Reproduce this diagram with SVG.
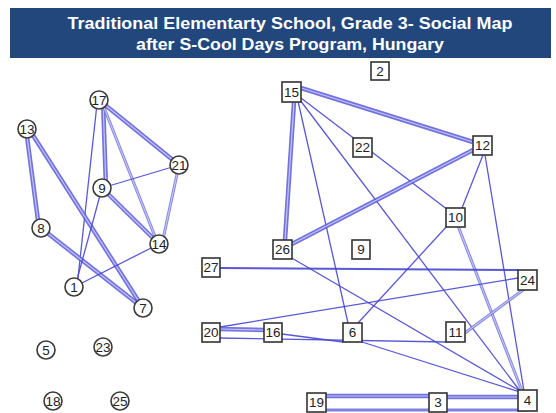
<svg xmlns="http://www.w3.org/2000/svg" width="556" height="413" viewBox="0 0 556 413">
<style>
.title{font-family:"Liberation Sans",Arial,sans-serif;font-weight:bold;font-size:17px;fill:#fff}
.lbl{font-family:"Liberation Sans",Arial,sans-serif;font-size:13.5px;fill:#222;text-anchor:middle;dominant-baseline:central}
.nc{fill:#fff;stroke:#3a3a3a;stroke-width:1.6}
.ns{fill:#fff;stroke:#333;stroke-width:1.6}
.thin{stroke:#4646d2;stroke-width:1.3;fill:none;opacity:.9}
.med{stroke:#6a6adc;stroke-width:3;fill:none;opacity:.85}
.thick{stroke:#5a5ad8;stroke-width:4.5;fill:none;opacity:.85}
.core{stroke:#c4c4f4;stroke-width:1.2;fill:none}
</style>
<rect x="10" y="8" width="541" height="50" fill="#21477c"/>
<text class="title" x="290" y="29" text-anchor="middle" textLength="445" lengthAdjust="spacingAndGlyphs">Traditional Elementarty School, Grade 3- Social Map</text>
<text class="title" x="290" y="50" text-anchor="middle" textLength="308" lengthAdjust="spacingAndGlyphs">after S-Cool Days Program, Hungary</text>
<g id="connectors">
<line class="thick" x1="99" y1="100" x2="179" y2="165"/><line class="core" x1="99" y1="100" x2="179" y2="165"/>
<line class="thick" x1="103" y1="100" x2="106" y2="188"/><line class="core" x1="103" y1="100" x2="106" y2="188"/>
<line class="med" x1="101" y1="100" x2="158" y2="244"/><line class="core" x1="101" y1="100" x2="158" y2="244"/>
<line class="thin" x1="97" y1="104" x2="77" y2="287"/>
<line class="thick" x1="26" y1="129" x2="39" y2="228"/><line class="core" x1="26" y1="129" x2="39" y2="228"/>
<line class="thick" x1="29" y1="129" x2="143" y2="308"/><line class="core" x1="29" y1="129" x2="143" y2="308"/>
<line class="thick" x1="41" y1="228" x2="143" y2="308"/><line class="core" x1="41" y1="228" x2="143" y2="308"/>
<line class="thin" x1="102" y1="188" x2="179" y2="165"/>
<line class="thick" x1="102" y1="188" x2="159" y2="244"/><line class="core" x1="102" y1="188" x2="159" y2="244"/>
<line class="thin" x1="102" y1="188" x2="75" y2="287"/>
<line class="med" x1="179" y1="165" x2="162" y2="244"/><line class="core" x1="179" y1="165" x2="162" y2="244"/>
<line class="thin" x1="74" y1="287" x2="159" y2="244"/>
<line class="thick" x1="301" y1="88" x2="473" y2="142"/><line class="core" x1="301" y1="88" x2="473" y2="142"/>
<line class="thick" x1="294" y1="102" x2="285" y2="240"/><line class="core" x1="294" y1="102" x2="285" y2="240"/>
<line class="thin" x1="301" y1="98" x2="448" y2="210"/>
<line class="thin" x1="298" y1="101" x2="348" y2="323"/>
<line class="thin" x1="300" y1="100" x2="520" y2="391"/>
<line class="thick" x1="290" y1="245" x2="473" y2="150"/><line class="core" x1="290" y1="245" x2="473" y2="150"/>
<line class="thin" x1="290" y1="257" x2="520" y2="391"/>
<line class="thin" x1="483" y1="155" x2="462" y2="208"/>
<line class="thin" x1="485" y1="155" x2="524" y2="391"/>
<line class="thin" x1="448" y1="225" x2="358" y2="323"/>
<line class="med" x1="458" y1="226" x2="522" y2="391"/><line class="core" x1="458" y1="226" x2="522" y2="391"/>
<line class="thin" style="stroke-width:2" x1="220" y1="268" x2="518" y2="270"/>
<line class="thin" x1="220" y1="327" x2="518" y2="278"/>
<line class="thick" x1="220" y1="329" x2="264" y2="330"/><line class="core" x1="220" y1="329" x2="264" y2="330"/>
<line class="thin" x1="220" y1="338" x2="447" y2="342"/>
<line class="thin" x1="282" y1="334" x2="343" y2="342"/>
<line class="thin" x1="362" y1="342" x2="520" y2="392"/>
<line class="med" x1="465" y1="333" x2="527" y2="287"/><line class="core" x1="465" y1="333" x2="527" y2="287"/>
<line class="thick" x1="326" y1="396" x2="429" y2="396"/><line class="core" x1="326" y1="396" x2="429" y2="396"/>
<line class="thick" x1="447" y1="397" x2="518" y2="397"/><line class="core" x1="447" y1="397" x2="518" y2="397"/>
<line class="med" x1="326" y1="410" x2="527" y2="410"/>
</g>
<g id="n17"><circle class="nc" cx="99" cy="100" r="9"/><text class="lbl" x="99" y="100">17</text></g>
<g id="n13"><circle class="nc" cx="27" cy="129" r="9"/><text class="lbl" x="27" y="129">13</text></g>
<g id="n21"><circle class="nc" cx="179" cy="165" r="9"/><text class="lbl" x="179" y="165">21</text></g>
<g id="n9a"><circle class="nc" cx="102" cy="188" r="9"/><text class="lbl" x="102" y="188">9</text></g>
<g id="n8"><circle class="nc" cx="41" cy="228" r="9"/><text class="lbl" x="41" y="228">8</text></g>
<g id="n14"><circle class="nc" cx="159" cy="244" r="9"/><text class="lbl" x="159" y="244">14</text></g>
<g id="n1"><circle class="nc" cx="74" cy="287" r="9"/><text class="lbl" x="74" y="287">1</text></g>
<g id="n7"><circle class="nc" cx="143" cy="308" r="9"/><text class="lbl" x="143" y="308">7</text></g>
<g id="n5"><circle class="nc" cx="46" cy="350" r="9"/><text class="lbl" x="46" y="350">5</text></g>
<g id="n23"><circle class="nc" cx="103" cy="347" r="9"/><text class="lbl" x="103" y="347">23</text></g>
<g id="n18"><circle class="nc" cx="53" cy="401" r="9"/><text class="lbl" x="53" y="401">18</text></g>
<g id="n25"><circle class="nc" cx="120" cy="401" r="9"/><text class="lbl" x="120" y="401">25</text></g>
<g id="n2"><rect class="ns" x="371" y="62" width="18" height="18"/><text class="lbl" x="380" y="71">2</text></g>
<g id="n15"><rect class="ns" x="282" y="82" width="19" height="20"/><text class="lbl" x="291.5" y="92">15</text></g>
<g id="n22"><rect class="ns" x="353" y="138" width="19" height="19"/><text class="lbl" x="362.5" y="147.5">22</text></g>
<g id="n12"><rect class="ns" x="473" y="136" width="19" height="19"/><text class="lbl" x="482.5" y="145.5">12</text></g>
<g id="n10"><rect class="ns" x="446" y="208" width="19" height="19"/><text class="lbl" x="455.5" y="217.5">10</text></g>
<g id="n26"><rect class="ns" x="273" y="240" width="19" height="19"/><text class="lbl" x="282.5" y="249.5">26</text></g>
<g id="n9b"><rect class="ns" x="352" y="240" width="18" height="19"/><text class="lbl" x="361" y="249.5">9</text></g>
<g id="n27"><rect class="ns" x="202" y="258" width="18" height="19"/><text class="lbl" x="211" y="267.5">27</text></g>
<g id="n24"><rect class="ns" x="518" y="270" width="19" height="20"/><text class="lbl" x="527.5" y="280">24</text></g>
<g id="n20"><rect class="ns" x="202" y="323" width="18" height="19"/><text class="lbl" x="211" y="332.5">20</text></g>
<g id="n16"><rect class="ns" x="264" y="323" width="18" height="19"/><text class="lbl" x="273" y="332.5">16</text></g>
<g id="n6"><rect class="ns" x="343" y="323" width="19" height="19"/><text class="lbl" x="352.5" y="332.5">6</text></g>
<g id="n11"><rect class="ns" x="446" y="322" width="19" height="20"/><text class="lbl" x="455.5" y="332">11</text></g>
<g id="n19"><rect class="ns" x="307" y="393" width="19" height="19"/><text class="lbl" x="316.5" y="402.5">19</text></g>
<g id="n3"><rect class="ns" x="429" y="393" width="18" height="19"/><text class="lbl" x="438" y="402.5">3</text></g>
<g id="n4"><rect class="ns" x="518" y="390" width="19" height="21"/><text class="lbl" x="527.5" y="400.5">4</text></g>
</svg>
